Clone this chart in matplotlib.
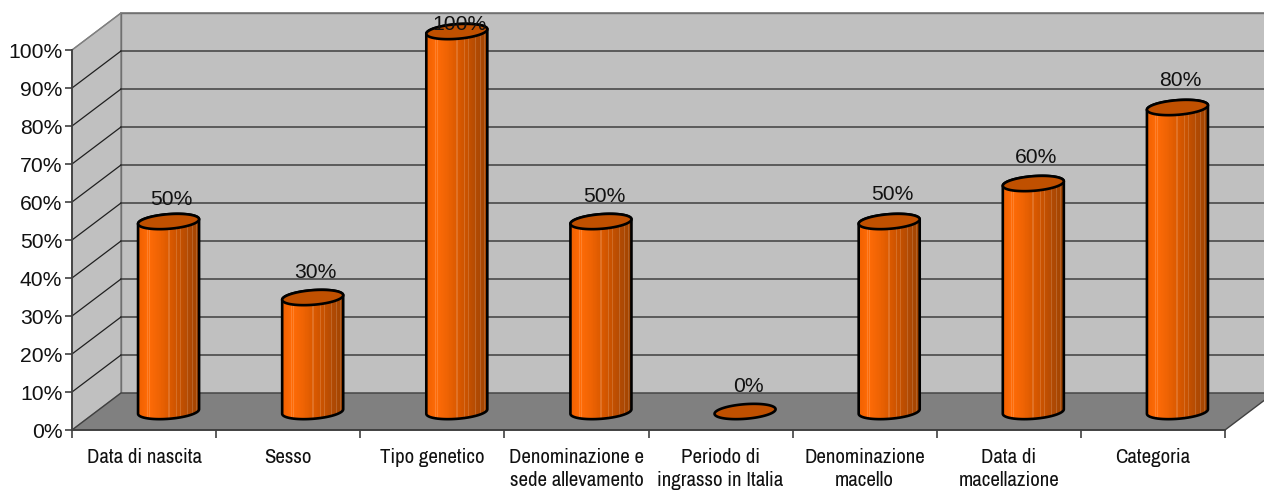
import matplotlib
matplotlib.use("Agg")
import matplotlib.pyplot as plt
import numpy as np
from matplotlib.colors import LinearSegmentedColormap
from matplotlib.patches import Polygon

categories = ["Data di nascita", "Sesso", "Tipo genetico",
              "Denominazione e\nsede allevamento", "Periodo di\ningrasso in Italia",
              "Denominazione\nmacello", "Data di\nmacellazione", "Categoria"]
values = [50, 30, 100, 50, 0, 50, 60, 80]
y_ticks = list(range(0, 101, 10))

W, H = 1264, 491
plt.rcParams['font.family'] = ['Liberation Sans', 'DejaVu Sans']

fig = plt.figure(figsize=(W / 100, H / 100), dpi=100)
ax = fig.add_axes([72 / W, (H - 430) / H, (1225 - 72) / W, 380 / H])
ax.set_xlim(0, len(categories))
ax.set_ylim(0, 100)
ax.patch.set_visible(False)

# size of one pixel in data units
px = len(categories) / (1225 - 72)
py = 100 / 380
depth_x = 49 * px
depth_y = 37 * py

# walls and floor
n = len(categories)
ax.add_patch(Polygon([(0, 0), (depth_x, depth_y), (depth_x, 100 + depth_y), (0, 100)],
                     fc="#c0c0c0", ec="#808080", lw=1, clip_on=False, zorder=0.1))
ax.add_patch(Polygon([(depth_x, depth_y), (n + depth_x, depth_y), (n + depth_x, 100 + depth_y),
                      (depth_x, 100 + depth_y)],
                     fc="#c0c0c0", ec="#707070", lw=1, clip_on=False, zorder=0.1))
ax.add_patch(Polygon([(0, 0), (n, 0), (n + depth_x, depth_y), (depth_x, depth_y)],
                     fc="#808080", ec="#404040", lw=1, clip_on=False, zorder=0.2))

# grid lines, back wall and side wall
for t in y_ticks[1:]:
    c = "#707070" if t == 100 else "#404040"
    ax.plot([depth_x, n + depth_x], [t + depth_y, t + depth_y], color=c, lw=1.1,
            clip_on=False, zorder=0.3)
    ax.plot([0, depth_x], [t, t + depth_y], color="#808080" if t == 100 else "#202020", lw=0.9,
            clip_on=False, zorder=0.3)

# axes
for s in ["top", "right"]:
    ax.spines[s].set_visible(False)
for s in ["left", "bottom"]:
    ax.spines[s].set_color("#404040")
    ax.spines[s].set_linewidth(1.3)
ax.set_yticks(y_ticks)
ax.set_yticklabels([f"{t}%" for t in y_ticks], fontsize=15.2, color="#111111")
ax.set_xticks(range(n + 1))
ax.set_xticklabels([])
ax.set_xticks(np.arange(n) + 0.5, minor=True)
ax.set_xticklabels(categories, minor=True, fontsize=15, color="#111111", linespacing=1.24,
                   family=['Archivo Narrow', 'Roboto Condensed', 'Liberation Sans'])
ax.tick_params(axis="x", which="major", length=6, width=1.1, color="#303030")
ax.tick_params(axis="x", which="minor", length=0, pad=13)
ax.tick_params(axis="y", length=5, width=1.1, color="#303030", pad=2)

cmap = LinearSegmentedColormap.from_list(
    "bar", ["#f06000", "#ff6c08", "#f06404", "#dc5a00", "#c85200", "#b04a04", "#a04400"])

# the gradient is one image, 61 pixels wide, with the pale stripes of the original
shade = cmap(np.linspace(0, 1, 61))
for col in [9, 11, 30, 37, 41, 48, 53, 57]:
    shade[col, :3] = shade[col, :3] * 0.85 + 0.15
shade = shade[np.newaxis, :, :]

A, B = 30.6, 7.3
TILT = np.radians(4.5)


def ellipse(cx, cy, t):
    # offsets are worked out in pixels, so the ellipse keeps its shape
    ox = A * np.cos(t) * np.cos(TILT) - B * np.sin(t) * np.sin(TILT)
    oy = A * np.cos(t) * np.sin(TILT) + B * np.sin(t) * np.cos(TILT)
    return cx + ox * px, cy + oy * py


t_right = np.arctan2(-B * np.sin(TILT), A * np.cos(TILT))
t_left = t_right + np.pi

# small shifts of the value labels, in pixels, as they sit in the original
label_shift = [-4, -1, 0, -1, -1, 1, 0, 1]

for i, v in enumerate(values):
    cx = i + 0.5 + depth_x / 2
    base = depth_y / 2
    top = base + v
    if v > 0:
        low = np.linspace(t_left, t_right + 2 * np.pi, 60)
        up = np.linspace(t_right, t_left, 60)
        xb, yb = ellipse(cx, base, low)
        xt, yt = ellipse(cx, top, up)
        body = Polygon(np.column_stack([np.r_[xb, xt], np.r_[yb, yt]]), fc="none", ec="black",
                       lw=1.9, clip_on=False, zorder=3.2, joinstyle="round")
        ax.add_patch(body)
        clip = Polygon(body.get_xy(), transform=ax.transData)
        half = 31 * px
        im = ax.imshow(shade, aspect="auto", zorder=3.1, interpolation="nearest",
                       extent=[cx - half, cx + half, base - 5, top + 5])
        im.set_clip_box(fig.bbox)
        im.set_clip_path(clip)
    xs, ys = ellipse(cx, top, np.linspace(0, 2 * np.pi, 120))
    ax.add_patch(Polygon(np.column_stack([xs, ys]), fc="#c05000", ec="black", lw=1.9,
                         clip_on=False, zorder=3.3))
    ax.text(cx + 3 * px, min(top + 6.8 + label_shift[i] * py, 106.8), f"{v}%", ha="center",
            va="center", fontsize=15.2, color="#111111", zorder=4, clip_on=False)

ax.set_xlim(0, n)
ax.set_ylim(0, 100)
fig.savefig("out.png", dpi=100)
